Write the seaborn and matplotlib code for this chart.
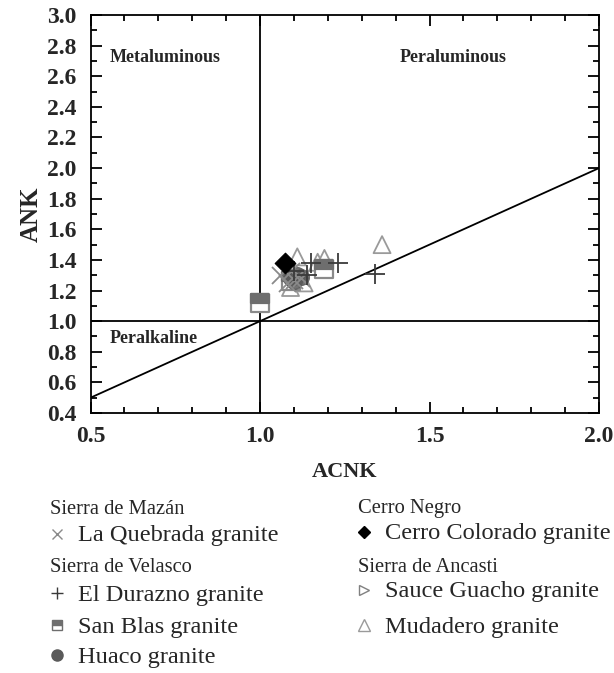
import matplotlib
matplotlib.use("Agg")
import matplotlib.pyplot as plt
from matplotlib.lines import Line2D
from matplotlib.markers import MarkerStyle
from matplotlib.ticker import MultipleLocator, FormatStrFormatter
import pandas as pd
import seaborn as sns

# ACNK / ANK values per granite body
la_quebrada_acnk = [1.06, 1.08, 1.10, 1.12, 1.09]
la_quebrada_ank = [1.30, 1.25, 1.27, 1.28, 1.33]

el_durazno_acnk = [1.15, 1.23, 1.34, 1.14, 1.10]
el_durazno_ank = [1.38, 1.38, 1.31, 1.30, 1.33]

san_blas_acnk = [1.00, 1.19, 1.09]
san_blas_ank = [1.12, 1.34, 1.26]

huaco_acnk = [1.09, 1.11, 1.10, 1.12]
huaco_ank = [1.28, 1.30, 1.26, 1.29]

cerro_colorado_acnk = [1.075]
cerro_colorado_ank = [1.38]

sauce_guacho_acnk = [1.12, 1.10]
sauce_guacho_ank = [1.28, 1.30]

mudadero_acnk = [1.36, 1.11, 1.19, 1.17, 1.09, 1.13]
mudadero_ank = [1.50, 1.42, 1.41, 1.385, 1.22, 1.25]

# Shand boundaries
boundary_x = [0.5, 2.0]
boundary_y = [0.5, 2.0]

sns.set_theme(style="white")
plt.rcParams["font.family"] = ["Liberation Serif", "DejaVu Serif"]
plt.rcParams["axes.linewidth"] = 1.3

fig = plt.figure(figsize=(6.14, 6.73), dpi=100)
ax = fig.add_axes([0.1474, 0.3863, 0.8282, 0.5914])

ax.plot(boundary_x, boundary_y, color="black", lw=1.3, zorder=2)
ax.axvline(1.0, color="black", lw=1.3, zorder=2)
ax.axhline(1.0, color="black", lw=1.3, zorder=2)


def frame(x, y):
    return pd.DataFrame({"ACNK": x, "ANK": y})


sns.scatterplot(data=frame(mudadero_acnk, mudadero_ank), x="ACNK", y="ANK", ax=ax,
                marker="^", s=150, facecolor="none", edgecolor="#9a9a9a",
                linewidth=1.3, zorder=3)
sns.scatterplot(data=frame(san_blas_acnk, san_blas_ank), x="ACNK", y="ANK", ax=ax,
                marker="s", s=170, facecolor="white", edgecolor="#8a8a8a",
                linewidth=1.6, zorder=4)
sns.scatterplot(data=frame(san_blas_acnk, san_blas_ank), x="ACNK", y="ANK", ax=ax,
                marker=MarkerStyle("s", fillstyle="top"), s=170, color="#6e6e6e",
                edgecolor="#6e6e6e", linewidth=1.6, zorder=4)
sns.scatterplot(data=frame(sauce_guacho_acnk, sauce_guacho_ank), x="ACNK", y="ANK", ax=ax,
                marker=">", s=120, facecolor="none", edgecolor="#808080",
                linewidth=1.2, zorder=5)
sns.scatterplot(data=frame(huaco_acnk, huaco_ank), x="ACNK", y="ANK", ax=ax,
                marker="o", s=130, color="#5a5a5a", edgecolor="#5a5a5a",
                alpha=0.85, zorder=5)
sns.scatterplot(data=frame(la_quebrada_acnk, la_quebrada_ank), x="ACNK", y="ANK", ax=ax,
                marker="x", s=150, color="#8a8a8a", linewidth=1.3, zorder=6)
sns.scatterplot(data=frame(el_durazno_acnk, el_durazno_ank), x="ACNK", y="ANK", ax=ax,
                marker="+", s=200, color="#3a3a3a", linewidth=1.3, zorder=6)
sns.scatterplot(data=frame(cerro_colorado_acnk, cerro_colorado_ank), x="ACNK", y="ANK", ax=ax,
                marker="D", s=110, color="black", edgecolor="black", zorder=7)

ax.set_xlim(0.5, 2.0)
ax.set_ylim(0.4, 3.0)
ax.xaxis.set_major_locator(MultipleLocator(0.5))
ax.xaxis.set_minor_locator(MultipleLocator(0.1))
ax.yaxis.set_major_locator(MultipleLocator(0.2))
ax.yaxis.set_minor_locator(MultipleLocator(0.1))
ax.tick_params(which="both", direction="in", top=True, right=True,
               bottom=True, left=True, color="black", width=1.3)
ax.tick_params(which="major", length=8, labelsize=17)
ax.tick_params(axis="y", which="major", pad=10)
ax.tick_params(axis="x", which="major", pad=9)
ax.tick_params(which="minor", length=4)
ax.xaxis.set_major_formatter(FormatStrFormatter("%.1f"))
ax.yaxis.set_major_formatter(FormatStrFormatter("%.1f"))
for lab in ax.get_xticklabels() + ax.get_yticklabels():
    lab.set_fontweight("bold")
for sp in ax.spines.values():
    sp.set_color("black")

ax.set_xlabel("ACNK", fontsize=16, fontweight="bold", labelpad=11)
ax.set_ylabel("ANK", fontsize=18, fontweight="bold", labelpad=3)

ax.text(0.556, 2.72, "Metaluminous", fontsize=13, fontweight="bold", va="center")
ax.text(1.57, 2.72, "Peraluminous", fontsize=13, fontweight="bold", va="center", ha="center")
ax.text(0.556, 0.89, "Peralkaline", fontsize=13, fontweight="bold", va="center")


# Legend below the diagram: group headers with their granite bodies
def fy(py):
    return 1 - py / 673


def fx(px):
    return px / 614


def header(px, py, text):
    fig.text(fx(px), fy(py), text, fontsize=14.8, va="center", ha="left")


def item(px, py, text, **mk):
    fig.add_artist(Line2D([fx(px)], [fy(py - 2)], transform=fig.transFigure, ls="none", **mk))
    fig.text(fx(px + 21), fy(py), text, fontsize=17.6, va="center", ha="left")


header(50, 510, "Sierra de Mazán")
item(57, 536, "La Quebrada granite", marker="x", ms=7, mec="#8a8a8a", mew=1.0)
header(50, 568, "Sierra de Velasco")
item(57, 595, "El Durazno granite", marker="+", ms=8, mec="#3a3a3a", mew=1.0)
item(57, 627, "San Blas granite", marker="s", ms=7, fillstyle="top",
     mfc="#6e6e6e", mfcalt="white", mec="#6e6e6e", mew=1.0)
item(57, 657, "Huaco granite", marker="o", ms=8, mfc="#5a5a5a", mec="#5a5a5a")

header(358, 508, "Cerro Negro")
item(364, 534, "Cerro Colorado granite", marker="D", ms=6, mfc="black", mec="black")
header(358, 568, "Sierra de Ancasti")
item(364, 592, "Sauce Guacho granite", marker=">", ms=7, mfc="none", mec="#808080", mew=1.0)
item(364, 627, "Mudadero granite", marker="^", ms=8, mfc="none", mec="#9a9a9a", mew=1.0)

fig.savefig("out.png", dpi=100)
